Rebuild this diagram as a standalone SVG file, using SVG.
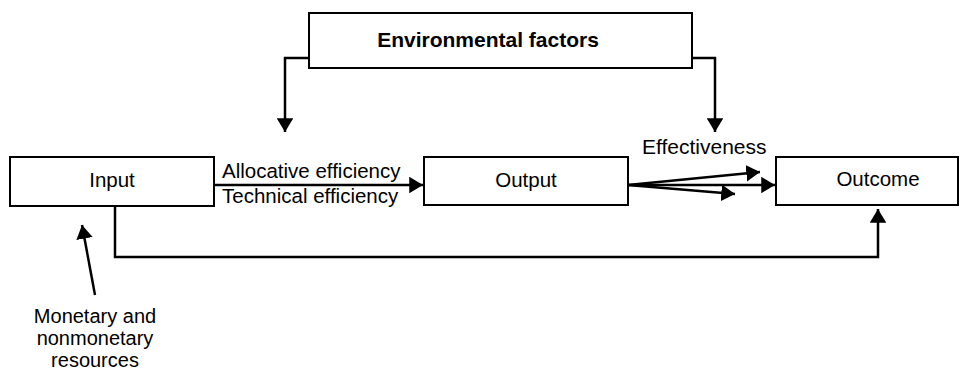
<svg xmlns="http://www.w3.org/2000/svg" width="968" height="372" viewBox="0 0 968 372">
  <style>
    .box { fill: #ffffff; stroke: #000000; stroke-width: 2; }
    .line { fill: none; stroke: #000000; stroke-width: 2.5; }
    text { font-family: "Liberation Sans", Arial, sans-serif; font-size: 20.5px; fill: #000000; }
    .c { text-anchor: middle; }
    .b { font-weight: bold; font-size: 21px; }
    .s { font-size: 20px; }
  </style>
  <defs>
    <marker id="head" viewBox="0 0 10 12" refX="10" refY="6" markerWidth="5.5" markerHeight="6.6" markerUnits="strokeWidth" orient="auto">
      <path d="M0,0 L10,6 L0,12 Z" fill="#000000"/>
    </marker>
  </defs>
  <rect width="968" height="372" fill="#ffffff"/>

  <g id="connectors">
    <!-- environmental factors feeding both stages -->
    <polyline class="line" points="309,58 285,58 285,132" marker-end="url(#head)"/>
    <polyline class="line" points="692,58 715,58 715,132" marker-end="url(#head)"/>
    <!-- input to output -->
    <line class="line" x1="214" y1="185" x2="423" y2="185" marker-end="url(#head)"/>
    <!-- output to outcome (effectiveness fan) -->
    <line class="line" x1="628" y1="185" x2="760" y2="172" marker-end="url(#head)"/>
    <line class="line" x1="628" y1="185" x2="775" y2="185" marker-end="url(#head)"/>
    <line class="line" x1="628" y1="185" x2="735" y2="194" marker-end="url(#head)"/>
    <!-- input direct to outcome -->
    <polyline class="line" points="115,206 115,257 878,257 878,209" marker-end="url(#head)"/>
    <!-- resources into input -->
    <line class="line" x1="95" y1="295" x2="82" y2="225" marker-end="url(#head)"/>
  </g>

  <g id="environmental-factors">
    <rect class="box" x="309" y="13" width="383" height="55"/>
    <text class="c b" x="488" y="47">Environmental factors</text>
  </g>

  <g id="input">
    <rect class="box" x="10" y="157" width="204" height="49"/>
    <text class="c" x="112" y="187">Input</text>
  </g>

  <g id="output">
    <rect class="box" x="424" y="157" width="204" height="48"/>
    <text class="c" x="526" y="187">Output</text>
  </g>

  <g id="outcome">
    <rect class="box" x="776" y="157" width="182" height="48"/>
    <text class="c" x="878" y="186">Outcome</text>
  </g>

  <g id="labels">
    <text x="222" y="178">Allocative efficiency</text>
    <text x="222" y="203">Technical efficiency</text>
    <text x="642" y="154" style="font-size:21px">Effectiveness</text>
    <text class="c s" x="95" y="323">Monetary and</text>
    <text class="c s" x="95" y="345">nonmonetary</text>
    <text class="c s" x="95" y="367">resources</text>
  </g>
</svg>
